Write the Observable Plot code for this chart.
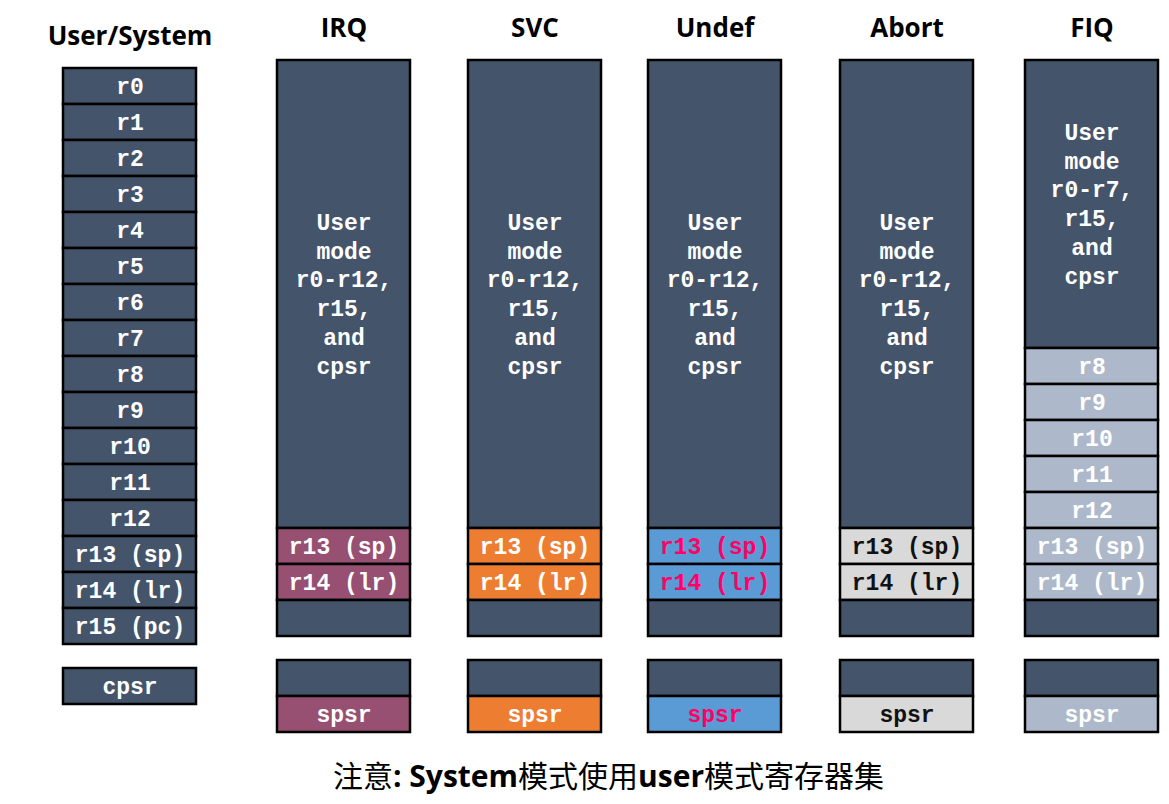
<!DOCTYPE html>
<html><head><meta charset="utf-8">
<script src="https://cdn.jsdelivr.net/npm/d3@7"></script>
<script src="https://cdn.jsdelivr.net/npm/@observablehq/plot@0.6"></script>
<style>html,body{margin:0;padding:0;background:#fff;} svg{display:block}</style>
</head><body><div id="chart"></div>
<script>
// ---------- data ----------
const modes = ["User/System", "IRQ", "SVC", "Undef", "Abort", "FIQ"];
const userRegisters = ["r0","r1","r2","r3","r4","r5","r6","r7","r8","r9","r10","r11","r12","r13 (sp)","r14 (lr)","r15 (pc)"];
const currentStatus = "cpsr";
const bankedModes = ["IRQ", "SVC", "Undef", "Abort", "FIQ"];
const irqBanked = ["r13 (sp)", "r14 (lr)"];
const svcBanked = ["r13 (sp)", "r14 (lr)"];
const undefBanked = ["r13 (sp)", "r14 (lr)"];
const abortBanked = ["r13 (sp)", "r14 (lr)"];
const fiqBanked = ["r8", "r9", "r10", "r11", "r12", "r13 (sp)", "r14 (lr)"];
const sharedLabels = [
  "User\nmode\nr0-r12,\nr15,\nand\ncpsr",
  "User\nmode\nr0-r12,\nr15,\nand\ncpsr",
  "User\nmode\nr0-r12,\nr15,\nand\ncpsr",
  "User\nmode\nr0-r12,\nr15,\nand\ncpsr",
  "User\nmode\nr0-r7,\nr15,\nand\ncpsr"
];
const savedStatus = "spsr";
const note = "注意: System模式使用user模式寄存器集";

// ---------- styles ----------
const style = {
  base: "#44546A",
  baseText: "#ffffff",
  modeFill: { IRQ: "#974F72", SVC: "#ED7D31", Undef: "#5B9BD5", Abort: "#D9D9D9", FIQ: "#ADB9CA" },
  modeText: { IRQ: "#ffffff", SVC: "#ffffff", Undef: "#FF0066", Abort: "#111111", FIQ: "#ffffff" }
};

// ---------- layout ----------
const layout = {
  width: 1169, height: 804,
  colLeft: { "User/System": 63, IRQ: 277, SVC: 468, Undef: 648, Abort: 840, FIQ: 1025 },
  colW: 133, rowH: 36, slots: 16,
  userTop: 68, bankTop: 60, gap: 24,
  titleY: { "User/System": 36, IRQ: 28, SVC: 28, Undef: 28, Abort: 28, FIQ: 28 },
  noteX: 608, noteY: 777
};

// ---------- build cells ----------
const bankedSets = [irqBanked, svcBanked, undefBanked, abortBanked, fiqBanked];
const cells = [];
const L = layout;
{
  const x1 = L.colLeft["User/System"];
  userRegisters.forEach((r, i) => cells.push({
    x1, x2: x1 + L.colW, y1: L.userTop + i * L.rowH, y2: L.userTop + (i + 1) * L.rowH,
    label: r, fill: style.base, text: style.baseText
  }));
  const sy = L.userTop + L.slots * L.rowH + L.gap;
  cells.push({ x1, x2: x1 + L.colW, y1: sy, y2: sy + L.rowH, label: currentStatus, fill: style.base, text: style.baseText });
}
bankedModes.forEach((m, j) => {
  const x1 = L.colLeft[m], x2 = x1 + L.colW;
  const regs = bankedSets[j];
  const nShared = L.slots - regs.length - 1;
  cells.push({ x1, x2, y1: L.bankTop, y2: L.bankTop + nShared * L.rowH, label: sharedLabels[j], fill: style.base, text: style.baseText });
  regs.forEach((r, k) => cells.push({
    x1, x2, y1: L.bankTop + (nShared + k) * L.rowH, y2: L.bankTop + (nShared + k + 1) * L.rowH,
    label: r, fill: style.modeFill[m], text: style.modeText[m]
  }));
  cells.push({ x1, x2, y1: L.bankTop + (L.slots - 1) * L.rowH, y2: L.bankTop + L.slots * L.rowH, label: "", fill: style.base, text: style.baseText });
  const sy = L.bankTop + L.slots * L.rowH + L.gap;
  cells.push({ x1, x2, y1: sy, y2: sy + L.rowH, label: "", fill: style.base, text: style.baseText });
  cells.push({ x1, x2, y1: sy + L.rowH, y2: sy + 2 * L.rowH, label: savedStatus, fill: style.modeFill[m], text: style.modeText[m] });
});

const chart = Plot.plot({
  width: L.width, height: L.height, margin: 0,
  x: { domain: [0, L.width], range: [0, L.width], axis: null },
  y: { domain: [0, L.height], range: [0, L.height], axis: null },
  color: { type: "identity" },
  marks: [
    Plot.rect(cells, { x1: "x1", x2: "x2", y1: "y1", y2: "y2", fill: "fill", stroke: "#000", strokeWidth: 2.5 }),
    Plot.text(cells.filter(d => d.label), {
      x: d => (d.x1 + d.x2) / 2, y: d => (d.y1 + d.y2) / 2, text: "label", fill: "text",
      fontFamily: "Liberation Mono", fontWeight: "bold", fontSize: 23, lineHeight: 1.25, dy: -2
    }),
    Plot.text(modes, {
      x: d => L.colLeft[d] + L.colW / 2, y: d => L.titleY[d], text: d => d,
      fontFamily: "Open Sans", fontWeight: "bold", fontSize: 26, fill: "#000"
    }),
    Plot.text([note], {
      x: () => L.noteX, y: () => L.noteY, text: d => d,
      fontFamily: "Noto Sans CJK SC", fontSize: 30, fill: "#000"
    })
  ]
});
document.getElementById("chart").appendChild(chart);

// mixed-font footer: latin parts bold, CJK parts regular
d3.select(chart).selectAll("text").filter(function () { return this.textContent === note; })
  .each(function () {
    const t = d3.select(this);
    t.text(null);
    note.split(/([\x00-\x7F]+)/).filter(s => s).forEach(seg => {
      const latin = /^[\x00-\x7F]+$/.test(seg);
      t.append("tspan").text(seg)
        .attr("font-family", latin ? "Open Sans" : "Noto Sans CJK SC")
        .attr("font-weight", latin ? "bold" : "normal");
    });
  });
</script>
</body></html>
